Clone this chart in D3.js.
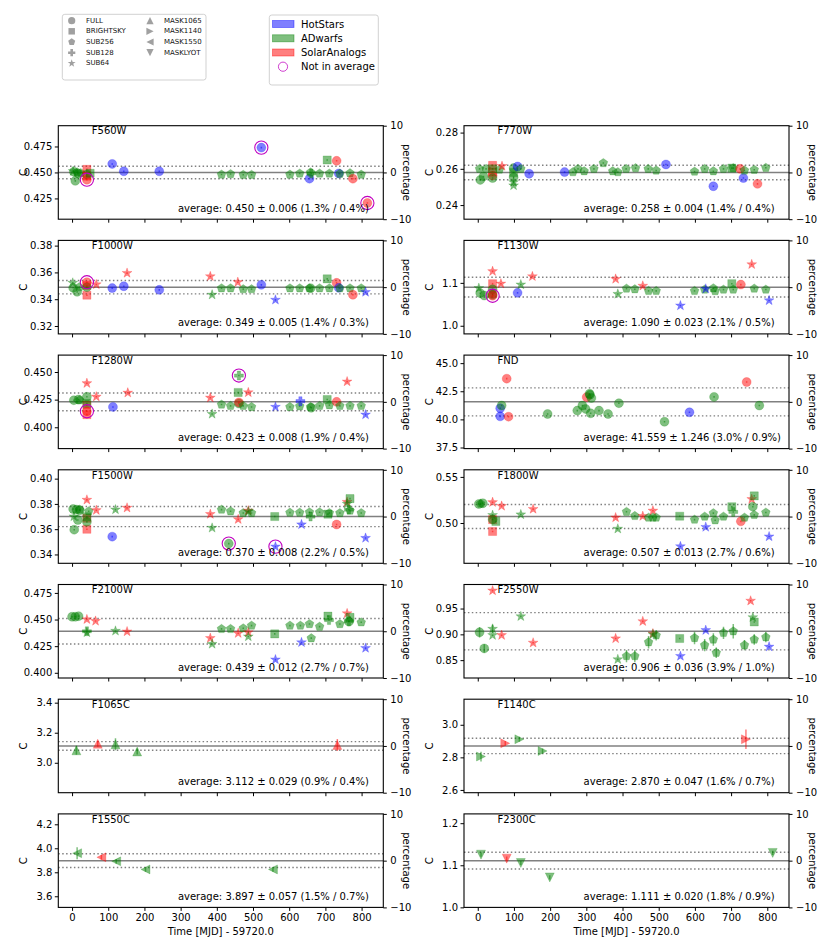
<!DOCTYPE html>
<html>
<head>
<meta charset="utf-8">
<script src="https://cdn.jsdelivr.net/npm/d3@7"></script>
<style>
  html, body { margin: 0; padding: 0; background: #fff; }
  svg text { font-family: "DejaVu Sans", sans-serif; }
</style>
</head>
<body>
<script>
// ---------------- DATA ----------------
const filters   = ["F560W","F770W","F1000W","F1130W","F1280W","FND","F1500W","F1800W","F2100W","F2550W","F1065C","F1140C","F1550C","F2300C"];
const averages  = [0.450, 0.258, 0.349, 1.090, 0.423, 41.559, 0.370, 0.507, 0.439, 0.906, 3.112, 2.870, 3.897, 1.111];
const stdevs    = [0.006, 0.004, 0.005, 0.023, 0.008, 1.246, 0.008, 0.013, 0.012, 0.036, 0.029, 0.047, 0.057, 0.020];
const relStd    = [1.3, 1.4, 1.4, 2.1, 1.9, 3.0, 2.2, 2.7, 2.7, 3.9, 0.9, 1.6, 1.5, 1.8];
const relErr    = [0.4, 0.4, 0.3, 0.5, 0.4, 0.9, 0.5, 0.6, 0.7, 1.0, 0.4, 0.7, 0.7, 0.9];
const yTicks    = [[0.425,0.450,0.475],[0.24,0.26,0.28],[0.32,0.34,0.36,0.38],[1.0,1.1],[0.400,0.425,0.450],[37.5,40.0,42.5,45.0],
                   [0.34,0.36,0.38,0.40],[0.50,0.55],[0.400,0.425,0.450,0.475],[0.85,0.90,0.95],[3.0,3.2,3.4],[2.6,2.8,3.0],[3.6,3.8,4.0,4.2],[1.0,1.1,1.2]];
const yDecimals = [3,2,2,1,3,1,2,2,3,2,1,1,1,1];
const xTicks    = [0,100,200,300,400,500,600,700,800];
const pctTicks  = [-10,0,10];
const xDomain   = [-38, 860];
const xLabel    = "Time [MJD] - 59720.0";

const modeNames  = ["FULL","BRIGHTSKY","SUB256","SUB128","SUB64","MASK1065","MASK1140","MASK1550","MASKLYOT"];
const modeMarks  = ["o","s","p","P","*","^",">","<","v"];
const groupNames = ["HotStars","ADwarfs","SolarAnalogs"];
const groupKeys  = ["H","A","S"];

// point = [time, C, marker, group, error, excluded]
const pts_F560W = [
 [5,0.4507,"o","A"],[9,0.4419,"o","A"],[3,0.4512,"*","A"],[14,0.4502,"p","A"],[24,0.4495,"p","A"],[18,0.4488,"o","A"],
 [41,0.4530,"s","S"],[41,0.4480,"o","A"],[41,0.4465,"s","S"],[41,0.4430,"o","S",0,1],[50,0.4492,"s","A"],
 [111,0.4582,"o","H"],[143,0.4511,"o","H"],[241,0.4511,"o","H"],
 [413,0.4480,"p","A"],[438,0.4485,"p","A"],[473,0.4478,"p","A"],[496,0.4478,"p","A"],
 [523,0.4739,"o","H",0,1],
 [602,0.4480,"p","A"],[629,0.4490,"p","A"],[656,0.4440,"o","H"],[659,0.4500,"p","A"],[661,0.4490,"P","A"],[684,0.4490,"p","A"],
 [705,0.4620,"s","A"],[711,0.4490,"p","A"],[731,0.4612,"o","S"],[737,0.4490,"o","H"],[740,0.4488,"p","A"],[768,0.4493,"p","A"],
 [776,0.4440,"o","S"],[799,0.4480,"p","A"],[816,0.4206,"o","S",0,1]
];
const pts_F770W = [
 [5,0.2600,"p","A"],[7,0.2539,"o","A"],[16,0.2558,"o","A"],[23,0.2600,"p","A"],[41,0.2619,"s","S"],[41,0.2582,"s","S"],
 [41,0.2563,"o","S"],[41,0.2549,"o","A"],[41,0.2600,"s","A"],[60,0.2596,"p","A"],[67,0.2615,"*","S"],[99,0.2604,"o","A"],
 [99,0.2554,"o","A"],[99,0.2508,"*","A"],[99,0.2526,"*","A"],[99,0.2580,"s","A"],[110,0.2613,"o","H"],[119,0.2600,"p","A"],
 [142,0.2573,"o","H"],[240,0.2582,"o","H"],[263,0.2582,"p","A"],[277,0.2600,"p","A"],[294,0.2587,"p","A"],[321,0.2600,"p","A"],
 [347,0.2632,"p","A"],[373,0.2587,"p","A"],[387,0.2582,"p","A"],[410,0.2600,"p","A"],[436,0.2604,"p","A"],[471,0.2600,"p","A"],
 [493,0.2591,"p","A"],[520,0.2624,"o","H"],[599,0.2585,"p","A"],[627,0.2600,"p","A"],[651,0.2587,"p","A"],[651,0.2504,"o","H"],
 [679,0.2600,"p","A"],[702,0.2604,"s","A"],[706,0.2604,"p","A"],[725,0.2600,"o","S"],[734,0.2549,"o","H"],[737,0.2591,"p","A"],
 [764,0.2595,"p","A"],[773,0.2517,"o","S"],[796,0.2606,"p","A"]
];
const pts_F1000W = [
 [2,0.3522,"*","A"],[3,0.3485,"o","A"],[14,0.3455,"o","A"],[20,0.3490,"p","A"],
 [41,0.3502,"s","S"],[41,0.3430,"s","S"],[41,0.3490,"o","A"],[41,0.3527,"o","S",0,1],[67,0.3510,"*","S"],
 [111,0.3483,"o","H"],[143,0.3497,"o","H"],[152,0.3595,"*","S"],[241,0.3470,"o","H"],
 [382,0.3570,"*","S"],[387,0.3433,"*","A"],[413,0.3482,"p","A"],[438,0.3482,"p","A"],[458,0.3527,"*","S"],[473,0.3475,"p","A"],[496,0.3475,"p","A"],
 [523,0.3507,"o","H"],[562,0.3395,"*","H"],
 [602,0.3482,"p","A"],[629,0.3482,"p","A"],[656,0.3482,"p","A"],[659,0.3482,"o","A"],[684,0.3482,"p","A"],[705,0.3552,"s","A"],
 [711,0.3482,"p","A"],[731,0.3522,"o","S"],[737,0.3485,"o","H"],[740,0.3482,"p","A"],[768,0.3482,"p","A"],[776,0.3433,"o","S"],
 [799,0.3482,"p","A"],[811,0.3453,"*","H"]
];
const pts_F1130W = [
 [3,1.0877,"*","A"],[7,1.0760,"o","A"],[18,1.0705,"o","A"],[41,1.1270,"*","S"],[41,1.0980,"s","S"],[41,1.0850,"o","A"],
 [41,1.0744,"o","S"],[41,1.0720,"o","A"],[41,1.0700,"o","S",0,1],[64,1.0980,"*","S"],[110,1.0767,"o","H"],[119,1.0960,"*","A"],[151,1.1150,"*","S"],
 [381,1.1090,"*","S"],[387,1.0740,"*","A"],[411,1.0867,"p","A"],[434,1.0852,"p","A"],[456,1.0930,"*","S"],[472,1.0813,"p","A"],[493,1.0813,"p","A"],
 [560,1.0470,"*","H"],[599,1.0813,"p","A"],[627,1.0844,"p","A"],[630,1.0860,"*","H"],[651,1.0875,"p","A"],[656,1.0810,"p","A"],
 [679,1.0844,"p","A"],[702,1.0980,"s","A"],[706,1.0844,"p","A"],[727,1.0960,"o","S"],[757,1.1430,"*","S"],[764,1.0867,"p","A"],
 [796,1.0844,"p","A"],[805,1.0590,"*","H"]
];
const pts_F1280W = [
 [5,0.4245,"o","A"],[18,0.4251,"o","A"],[21,0.4245,"p","A"],
 [41,0.4398,"*","S"],[41,0.4276,"o","A"],[41,0.4200,"s","S"],[41,0.4215,"s","A"],[41,0.4114,"s","S"],[41,0.4145,"o","S",0,1],
 [67,0.4276,"*","S"],[113,0.4184,"o","H"],[154,0.4312,"*","S"],
 [382,0.4267,"*","S"],[387,0.4120,"*","A"],[413,0.4206,"p","A"],[438,0.4194,"p","A"],[459,0.4315,"s","A"],[461,0.4215,"o","A"],
 [461,0.4225,"o","S"],[461,0.4468,"P","A",0,1],[473,0.4194,"p","A"],[487,0.4315,"*","S"],[496,0.4184,"p","A"],
 [562,0.4184,"*","H"],[602,0.4184,"p","A"],[629,0.4190,"p","A"],[631,0.4236,"P","H"],[659,0.4184,"p","A"],[661,0.4176,"o","A"],
 [684,0.4194,"p","A"],[705,0.4251,"s","A"],[711,0.4200,"p","A"],[731,0.4230,"o","S"],[740,0.4194,"p","A"],[760,0.4413,"*","S"],
 [768,0.4194,"p","A"],[799,0.4194,"p","A"],[811,0.4114,"*","H"]
];
const pts_FND = [
 [62,40.27,"o","H"],[62,40.99,"o","H"],[66,41.23,"o","A"],[80,43.62,"o","S"],[85,40.24,"o","S"],[193,40.48,"o","A"],
 [275,40.78,"o","A"],[289,41.23,"o","A"],[298,40.93,"o","A"],[301,41.98,"o","S"],[309,42.28,"o","A"],[310,42.18,"o","A"],
 [314,41.90,"o","A"],[312,40.54,"o","A"],[335,40.78,"o","A"],[360,40.48,"o","A"],[390,41.44,"o","A"],[516,39.79,"o","A"],
 [585,40.63,"o","H"],[653,42.00,"o","A"],[743,43.32,"o","S"],[778,41.23,"o","A"]
];
const pts_F1500W = [
 [3,0.3760,"o","A"],[12,0.3755,"o","A"],[21,0.3750,"o","A"],[16,0.3673,"o","A"],[6,0.3596,"o","A"],[5,0.3700,"*","A"],[21,0.3755,"p","A"],
 [41,0.3832,"*","S"],[41,0.3686,"s","S"],[41,0.3699,"s","A"],[41,0.3599,"s","S"],[41,0.3658,"o","A"],[46,0.3742,"p","A"],
 [67,0.3750,"*","S"],[111,0.3541,"o","H"],[120,0.3755,"*","A"],[152,0.3769,"*","S"],
 [382,0.3719,"*","S"],[387,0.3610,"*","A"],[413,0.3755,"p","A"],[433,0.3486,"o","A",0,1],[438,0.3742,"p","A"],[459,0.3678,"*","S"],
 [473,0.3728,"p","A"],[487,0.3747,"*","S"],[487,0.3740,"*","A"],[496,0.3728,"p","A"],
 [560,0.3700,"s","A"],[562,0.3462,"*","H",0,1],[602,0.3731,"p","A"],[629,0.3731,"p","A"],[634,0.3637,"*","H"],[656,0.3734,"p","A"],
 [659,0.3700,"P","A"],[684,0.3734,"p","A"],[707,0.3719,"s","A"],[711,0.3728,"p","A"],[731,0.3637,"o","S"],[740,0.3728,"p","A"],
 [760,0.3815,"*","S"],[760,0.3800,"*","A"],[765,0.3755,"P","A"],[768,0.3842,"s","A"],[768,0.3747,"p","A"],[799,0.3728,"p","A"],[811,0.3530,"*","H"]
];
const pts_F1800W = [
 [3,0.5206,"o","A"],[14,0.5214,"o","A"],[8,0.5210,"p","A"],[41,0.5225,"*","S"],[66,0.5184,"*","S"],[41,0.5085,"*","A"],
 [41,0.5037,"s","S"],[50,0.5018,"s","A"],[41,0.4908,"s","S"],[41,0.5040,"o","A"],
 [119,0.5092,"*","A"],[153,0.5151,"*","S"],[381,0.5059,"*","S"],[387,0.4937,"*","A"],
 [411,0.5122,"p","A"],[434,0.5077,"p","A"],[456,0.5074,"*","S"],[472,0.5059,"p","A"],[484,0.5133,"*","S"],[484,0.5059,"p","A"],[493,0.5059,"p","A"],
 [558,0.5074,"s","A"],[560,0.4746,"*","H"],[599,0.5037,"p","A"],[627,0.5070,"p","A"],[630,0.4956,"*","H"],[651,0.5107,"p","A"],
 [656,0.5030,"p","A"],[679,0.5070,"p","A"],[702,0.5177,"s","A"],[706,0.5120,"P","A"],[727,0.5018,"o","S"],[737,0.5059,"p","A"],
 [757,0.5258,"*","S"],[760,0.5177,"o","A"],[764,0.5294,"s","A"],[764,0.5088,"p","A"],[796,0.5114,"p","A"],[805,0.4853,"*","H"]
];
const pts_F2100W = [
 [0,0.4526,"o","A"],[9,0.4526,"o","A"],[18,0.4532,"o","A"],[41,0.4501,"*","S"],[65,0.4486,"*","S"],[41,0.4378,"*","A"],[41,0.4390,"P","A"],
 [120,0.4393,"*","A"],[152,0.4387,"*","S"],[382,0.4325,"*","S"],[387,0.4270,"*","A"],
 [413,0.4412,"p","A"],[438,0.4412,"p","A"],[459,0.4371,"*","S"],[473,0.4418,"p","A"],[487,0.4380,"*","S"],[487,0.4340,"*","A"],[496,0.4443,"p","A"],
 [560,0.4365,"s","A"],[562,0.4124,"*","H"],[602,0.4443,"p","A"],[631,0.4443,"p","A"],[634,0.4285,"*","H"],[656,0.4458,"p","A"],
 [661,0.4325,"p","A"],[684,0.4433,"p","A"],[707,0.4532,"s","A"],[710,0.4495,"P","A"],[740,0.4458,"p","A"],[760,0.4557,"*","S"],
 [765,0.4485,"P","A"],[768,0.4520,"s","A"],[765,0.4480,"o","A"],[799,0.4474,"p","A"],[811,0.4232,"*","H"]
];
const pts_F2550W = [
 [5,0.9040,"o","A",0.010],[18,0.8727,"o","A",0.008],[41,0.9848,"*","S"],[41,0.9105,"*","A",0.008],[41,0.8983,"*","A"],
 [66,0.8983,"*","S"],[119,0.9348,"*","A"],[153,0.8836,"*","S"],[381,0.8919,"*","S"],[387,0.8515,"*","A"],
 [411,0.8579,"p","A",0.012],[434,0.8579,"p","A",0.012],[456,0.9252,"*","S"],[472,0.8848,"p","A",0.012],[484,0.9015,"*","S"],
 [484,0.9000,"*","A"],[493,0.8980,"p","A",0.010],[558,0.8919,"s","A"],[560,0.8579,"*","H"],[599,0.8930,"p","A",0.012],
 [627,0.8790,"p","A",0.012],[630,0.9080,"*","H"],[651,0.8900,"p","A",0.012],[659,0.8643,"p","A",0.010],[679,0.9028,"p","A",0.012],
 [706,0.9060,"p","A",0.014],[737,0.8790,"p","A",0.010],[754,0.9650,"*","S"],[760,0.9330,"*","A"],[764,0.9240,"s","A"],
 [764,0.8900,"p","A",0.010],[796,0.8945,"p","A",0.010],[805,0.8759,"*","H"]
];
const pts_F1065C = [[12,3.083,"^","A",0.030],[71,3.127,"^","S",0.020],[120,3.123,"^","A",0.040],[180,3.075,"^","A",0.020],[733,3.119,"^","S",0.040]];
const pts_F1140C = [[9,2.805,">","A",0.030],[76,2.886,">","S",0.015],[115,2.911,">","A",0.015],[179,2.839,">","A",0.015],[741,2.911,">","S",0.060]];
const pts_F1550C = [[14,3.959,"<","A",0.050],[81,3.925,"<","S",0.020],[122,3.891,"<","A",0.020],[203,3.824,"<","A",0.020],[555,3.824,"<","A",0.020]];
const pts_F2300C = [[9,1.1253,"v","A",0.005],[80,1.1158,"v","S",0.005],[119,1.1054,"v","A",0.005],[199,1.0712,"v","A",0.005],[815,1.1293,"v","A",0.005]];

const panelPoints = [pts_F560W, pts_F770W, pts_F1000W, pts_F1130W, pts_F1280W, pts_FND, pts_F1500W, pts_F1800W,
                     pts_F2100W, pts_F2550W, pts_F1065C, pts_F1140C, pts_F1550C, pts_F2300C];

// ---------------- STYLE / LAYOUT ----------------
const W = 830, H = 949;
const colLeft = [58.3, 464], plotW = 325;
const rowTop0 = 125.7, rowStep = 114.7, plotH = 93.5;
const groupColor = {H: "#0000ff", A: "#008000", S: "#ff0000"};
const ringColor = "#c000c0";
const lineGray = "#808080";

function markerPath(m, r) {
  const pts = (arr) => "M" + arr.map(p => p[0].toFixed(2) + "," + p[1].toFixed(2)).join("L") + "Z";
  switch (m) {
    case "o": return `M${r},0A${r},${r} 0 1,1 ${-r},0A${r},${r} 0 1,1 ${r},0Z`;
    case "s": { const h = r * 0.9; return pts([[-h,-h],[h,-h],[h,h],[-h,h]]); }
    case "p": { const a = []; const R = r * 1.02; for (let k = 0; k < 5; k++) { const t = -Math.PI/2 + k*2*Math.PI/5; a.push([R*Math.cos(t), R*Math.sin(t)]); } return pts(a); }
    case "*": { const a = []; const R = r * 1.15, ri = R * 0.4; for (let k = 0; k < 10; k++) { const t = -Math.PI/2 + k*Math.PI/5; const rr = k%2 ? ri : R; a.push([rr*Math.cos(t), rr*Math.sin(t)]); } return pts(a); }
    case "P": { const a = r, b = r * 0.36; return pts([[-b,-a],[b,-a],[b,-b],[a,-b],[a,b],[b,b],[b,a],[-b,a],[-b,b],[-a,b],[-a,-b],[-b,-b]]); }
    case "^": return pts([[0,-r],[r,r],[-r,r]]);
    case "v": return pts([[0,r],[r,-r],[-r,-r]]);
    case ">": return pts([[r,0],[-r,-r],[-r,r]]);
    case "<": return pts([[-r,0],[r,-r],[r,r]]);
  }
}

const svg = d3.select("body").append("svg").attr("width", W).attr("height", H);

filters.forEach((name, i) => {
  const col = i % 2, row = Math.floor(i / 2);
  const x0 = colLeft[col], y0 = rowTop0 + row * rowStep;
  const g = svg.append("g").attr("transform", `translate(${x0},${y0})`);
  const avg = averages[i], sd = stdevs[i];
  const x = d3.scaleLinear().domain(xDomain).range([0, plotW]);
  const y = d3.scaleLinear().domain([avg * 0.9, avg * 1.1]).range([plotH, 0]);
  const yp = d3.scaleLinear().domain([-10, 10]).range([plotH, 0]);

  const clipId = "clip" + i;
  g.append("clipPath").attr("id", clipId).append("rect").attr("width", plotW).attr("height", plotH);
  const inner = g.append("g").attr("clip-path", `url(#${clipId})`);

  // reference lines
  inner.append("line").attr("x1", 0).attr("x2", plotW).attr("y1", y(avg)).attr("y2", y(avg))
    .attr("stroke", lineGray).attr("stroke-width", 1.5);
  [avg + sd, avg - sd].forEach(v => {
    inner.append("line").attr("x1", 0).attr("x2", plotW).attr("y1", y(v)).attr("y2", y(v))
      .attr("stroke", lineGray).attr("stroke-width", 1.4).attr("stroke-dasharray", "1.5,2.4");
  });

  // points
  const pts = panelPoints[i];
  pts.forEach(p => {
    const [t, c, m, grp, err, ex] = p;
    const cx = x(t), cy = y(c), col = groupColor[grp];
    inner.append("path").attr("d", markerPath(m, 4.5))
      .attr("transform", `translate(${cx},${cy})`)
      .attr("fill", col).attr("fill-opacity", 0.5)
      .attr("stroke", col).attr("stroke-opacity", 0.25).attr("stroke-width", 0.8);
    const e = err || 0;
    let ya = y(c + e), yb = y(c - e);
    if (yb - ya < 1.6) { ya = cy - 0.8; yb = cy + 0.8; }
    inner.append("line").attr("x1", cx).attr("x2", cx).attr("y1", ya).attr("y2", yb)
      .attr("stroke", col).attr("stroke-opacity", 0.5).attr("stroke-width", 1.5);
  });
  pts.filter(p => p[5]).forEach(p => {
    inner.append("circle").attr("cx", x(p[0])).attr("cy", y(p[1])).attr("r", 6.6)
      .attr("fill", "none").attr("stroke", ringColor).attr("stroke-width", 1.1);
  });

  // axes
  const fmt = d3.format("." + yDecimals[i] + "f");
  const ay = g.append("g").call(d3.axisLeft(y).tickValues(yTicks[i]).tickFormat(fmt).tickSize(3.5).tickPadding(2.5));
  const ax = g.append("g").attr("transform", `translate(0,${plotH})`)
    .call(d3.axisBottom(x).tickValues(xTicks).tickFormat(row === 6 ? d3.format("d") : () => "").tickSize(3.5).tickPadding(3));
  const ar = g.append("g").attr("transform", `translate(${plotW},0)`)
    .call(d3.axisRight(yp).tickValues(pctTicks).tickFormat(d => d < 0 ? "\u2212" + Math.abs(d) : String(d)).tickSize(3.5).tickPadding(3.5));
  [ay, ax, ar].forEach(a => {
    a.select(".domain").remove();
    a.selectAll(".tick line").attr("stroke", "#000").attr("stroke-width", 1);
    a.selectAll(".tick text").attr("font-size", 10).attr("fill", "#000").attr("font-family", "DejaVu Sans");
  });

  g.append("rect").attr("width", plotW).attr("height", plotH).attr("fill", "none").attr("stroke", "#000").attr("stroke-width", 1.1);

  // labels
  g.append("text").attr("x", plotW * 0.103).attr("y", 8.7).attr("font-size", 10).text(name);
  const avgTxt = `average: ${avg.toFixed(3)} \u00b1 ${sd.toFixed(3)} (${relStd[i].toFixed(1)}% / ${relErr[i].toFixed(1)}%)`;
  g.append("text").attr("x", plotW * 0.368).attr("y", plotH - 7.5).attr("font-size", 10).text(avgTxt);
  g.append("text").attr("transform", `translate(-35,${plotH / 2}) rotate(-90)`).attr("text-anchor", "middle")
    .attr("dominant-baseline", "central").attr("font-size", 10).text("C");
  g.append("text").attr("transform", `translate(${plotW + 23.5},${plotH / 2}) rotate(90)`).attr("text-anchor", "middle")
    .attr("dominant-baseline", "central").attr("font-size", 10).text("percentage");
  if (row === 6) {
    g.append("text").attr("x", plotW / 2).attr("y", plotH + 27.5).attr("text-anchor", "middle").attr("font-size", 10).text(xLabel);
  }
});

// ---------------- LEGENDS ----------------
const lg1 = svg.append("g");
lg1.append("rect").attr("x", 62.3).attr("y", 14.3).attr("width", 143.7).attr("height", 65.7).attr("rx", 2.5)
  .attr("fill", "#fff").attr("stroke", "#cccccc").attr("stroke-width", 0.9);
const legRows = [20.7, 31.3, 42, 52.7, 63.3];
modeNames.forEach((mn, k) => {
  const c = k < 5 ? 0 : 1, r = k < 5 ? k : k - 5;
  const mx = c === 0 ? 71.7 : 150, tx = c === 0 ? 86 : 164;
  lg1.append("path").attr("d", markerPath(modeMarks[k], 3.6)).attr("transform", `translate(${mx},${legRows[r]})`)
    .attr("fill", "#808080").attr("fill-opacity", 0.75);
  lg1.append("text").attr("x", tx).attr("y", legRows[r]).attr("dominant-baseline", "central")
    .attr("font-size", 7).attr("fill", "#111").text(mn);
});

const lg2 = svg.append("g");
lg2.append("rect").attr("x", 269.3).attr("y", 15).attr("width", 109).attr("height", 70).attr("rx", 2.5)
  .attr("fill", "#fff").attr("stroke", "#cccccc").attr("stroke-width", 0.9);
const leg2Rows = [24, 38.3, 52.5, 66.7];
groupKeys.forEach((gk, k) => {
  lg2.append("rect").attr("x", 272.5).attr("y", leg2Rows[k] - 3.5).attr("width", 21.5).attr("height", 7)
    .attr("fill", groupColor[gk]).attr("fill-opacity", 0.5).attr("stroke", groupColor[gk]).attr("stroke-opacity", 0.5).attr("stroke-width", 0.8);
  lg2.append("text").attr("x", 301).attr("y", leg2Rows[k]).attr("dominant-baseline", "central").attr("font-size", 10).text(groupNames[k]);
});
lg2.append("circle").attr("cx", 283).attr("cy", leg2Rows[3]).attr("r", 4.6).attr("fill", "none")
  .attr("stroke", ringColor).attr("stroke-opacity", 0.75).attr("stroke-width", 1);
lg2.append("text").attr("x", 301).attr("y", leg2Rows[3]).attr("dominant-baseline", "central").attr("font-size", 10).text("Not in average");
</script>
</body>
</html>
